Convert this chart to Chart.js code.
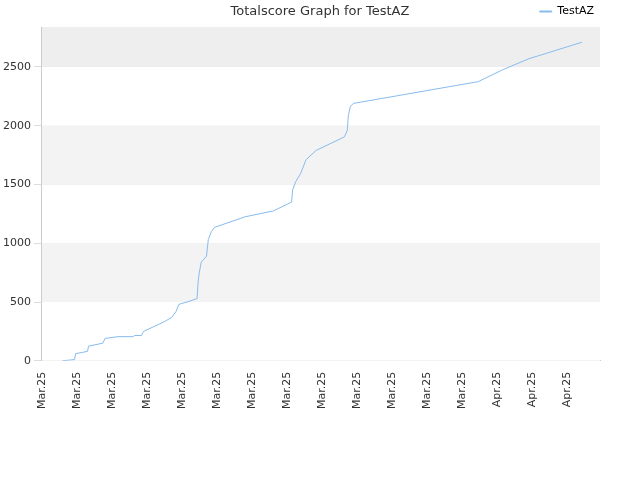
<!DOCTYPE html>
<html>
<head>
<meta charset="utf-8">
<script src="https://cdn.jsdelivr.net/npm/chart.js@4/dist/chart.umd.min.js"></script>
<style>
  html, body { margin: 0; padding: 0; background: #fff; }
  #wrap { width: 640px; height: 480px; }
</style>
</head>
<body>
<div id="wrap"><canvas id="myChart"></canvas></div>
<script>
const chartTitle = "Totalscore Graph for TestAZ";
const tickLabels = ["Mar.25","Mar.25","Mar.25","Mar.25","Mar.25","Mar.25","Mar.25","Mar.25",
                    "Mar.25","Mar.25","Mar.25","Mar.25","Mar.25","Apr.25","Apr.25","Apr.25"];
const yTicks = [0,500,1000,1500,2000,2500];
const xValues = [0.58,0.93,0.96,1.30,1.33,1.74,1.80,2.17,2.61,2.64,2.84,2.90,3.19,3.48,3.71,3.83,3.91,
                 4.20,4.43,4.46,4.49,4.55,4.70,4.75,4.84,4.93,5.80,6.61,7.13,7.16,7.25,7.39,7.54,7.83,
                 8.64,8.72,8.75,8.81,8.90,12.46,13.19,13.91,15.42];
const scores = [0,10,60,80,124,150,190,205,205,215,215,250,290,330,370,420,480,
                505,530,670,745,840,890,1030,1100,1135,1225,1275,1350,1455,1525,1595,1710,1790,
                1905,1960,2085,2165,2190,2375,2480,2570,2710];
const bandEdges = [0,500,1000,1500,2000,2500,2840];
const bandColors = ["#ffffff","#f3f3f3","#ffffff","#f3f3f3","#ffffff","#eeeeee"];

const bands = {
    id: "bands",
    beforeDatasetsDraw(chart) {
        const { ctx, chartArea: a, scales: { y } } = chart;
        ctx.save();
        for (let i = 0; i < bandColors.length; i++) {
            const top = y.getPixelForValue(bandEdges[i + 1]);
            const bot = y.getPixelForValue(bandEdges[i]);
            ctx.fillStyle = bandColors[i];
            ctx.fillRect(a.left, top, a.right - a.left, bot - top);
        }
        ctx.restore();
    },
    afterDraw(chart) {
        const ctx = chart.ctx;
        ctx.save();
        ctx.fillStyle = "#333";
        ctx.font = "13px 'DejaVu Sans'";
        ctx.textAlign = "center";
        ctx.textBaseline = "middle";
        ctx.fillText(chartTitle, 320, 12);
        ctx.restore();
    }
};

let ctx = document.getElementById("myChart").getContext("2d");
new Chart(ctx, {
    type: "line",
    data: {
        datasets: [{
            label: "TestAZ",
            data: xValues.map((x, i) => ({ x: x, y: scores[i] })),
            borderColor: "#88bbee",
            backgroundColor: "#88bbee",
            borderWidth: 1,
            pointRadius: 0,
            tension: 0
        }]
    },
    options: {
        animation: false,
        responsive: true,
        maintainAspectRatio: false,
        layout: { padding: { left: 0, right: 40, top: 0, bottom: 68 } },
        plugins: {
            title: { display: false },
            legend: {
                align: "end",
                labels: {
                    boxWidth: 12, boxHeight: 1, color: "#000", padding: 6,
                    font: { family: "DejaVu Sans", size: 11 }
                }
            },
            tooltip: { enabled: false }
        },
        scales: {
            x: {
                type: "linear", min: 0, max: 15.94,
                grid: { display: false },
                border: { color: "#ccc" },
                ticks: {
                    stepSize: 1, autoSkip: false, maxRotation: 90, minRotation: 90,
                    color: "#333", font: { family: "DejaVu Sans", size: 11 },
                    callback: (v) => tickLabels[Math.round(v)] ?? ""
                }
            },
            y: {
                min: 0, max: 2840,
                grid: { color: "#dddddd" },
                border: { color: "#ccc" },
                afterBuildTicks: (axis) => { axis.ticks = yTicks.map(v => ({ value: v })); },
                ticks: {
                    autoSkip: false,
                    color: "#333", font: { family: "DejaVu Sans", size: 11 },
                    callback: (v) => String(v)
                }
            }
        }
    },
    plugins: [bands]
});
</script>
</body>
</html>
